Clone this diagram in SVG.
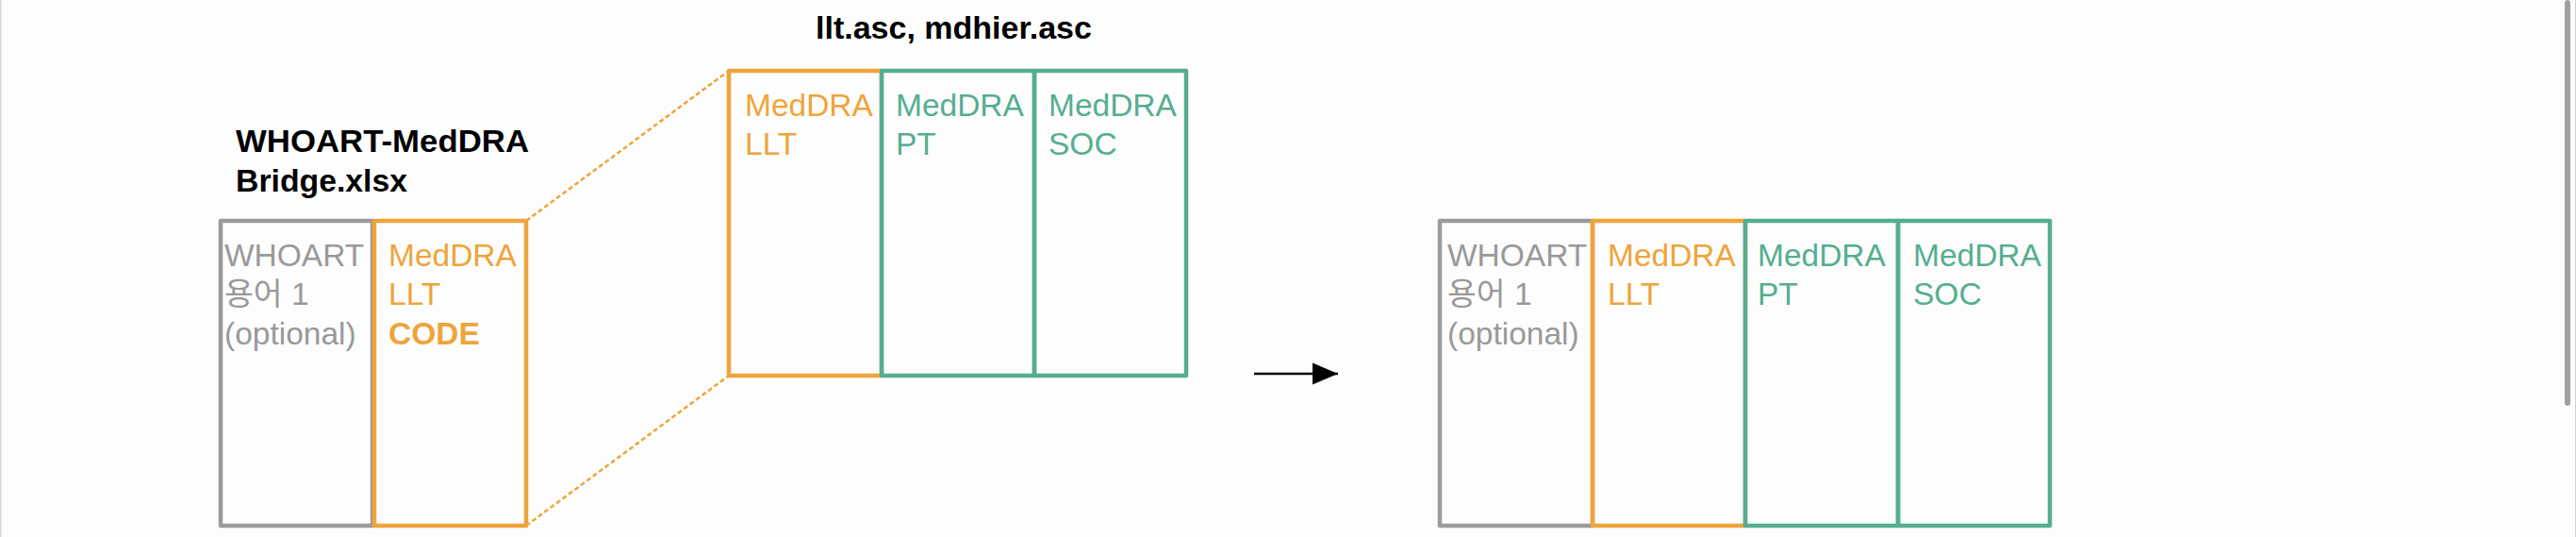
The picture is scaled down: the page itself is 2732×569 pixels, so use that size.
<svg xmlns="http://www.w3.org/2000/svg" width="2732" height="569" viewBox="0 0 2732 569">
  <defs>
    <style>
      .t { font-family: "Liberation Sans", "Noto Sans CJK KR", sans-serif; font-size: 33.5px; }
      .b { font-weight: bold; }
      .title { font-family: "Liberation Sans", sans-serif; font-size: 34px; font-weight: bold; fill: #000; }
      .gray { fill: #999999; }
      .orange { fill: #EFA43B; }
      .green { fill: #55AE90; }
      .cg { fill: none; stroke: #9B9B9B; stroke-width: 4.5; stroke-linejoin: round; }
      .co { fill: none; stroke: #EFA43B; stroke-width: 4.5; stroke-linejoin: round; }
      .cn { fill: none; stroke: #55AE90; stroke-width: 4.5; stroke-linejoin: round; }
      .dash { fill: none; stroke: #EFA43B; stroke-width: 2.5; stroke-dasharray: 5 3; }
      .arrow { fill: none; stroke: #000; stroke-width: 2.5; }
    </style>
    <marker id="ah" markerUnits="userSpaceOnUse" markerWidth="28" markerHeight="24" refX="27" refY="12" orient="auto">
      <polygon points="0,0.5 27,12 0,23.5" fill="#000"/>
    </marker>
  </defs>
  <rect x="0" y="0" width="2732" height="569" fill="#FDFDFD"/>
  <rect x="0" y="0" width="1.5" height="569" fill="#D4D8E0"/>
  <rect x="2720" y="0" width="6" height="430" rx="3" fill="#A0A0A0"/>
  <rect x="2731" y="0" width="1" height="569" fill="#D0D0D0"/>

  <g id="connectors">
    <line class="dash" x1="558" y1="234" x2="773" y2="75"/>
    <line class="dash" x1="558" y1="557" x2="773" y2="398"/>
    <line class="arrow" x1="1330" y1="396" x2="1419" y2="396" marker-end="url(#ah)"/>
  </g>

  <g id="bridge">
    <text class="title" x="250" y="161" textLength="311" lengthAdjust="spacingAndGlyphs">WHOART-MedDRA</text>
    <text class="title" x="250" y="203" textLength="182" lengthAdjust="spacingAndGlyphs">Bridge.xlsx</text>
    <g id="bridge-whoart">
      <rect class="cg" x="234" y="234" width="161" height="323"/>
      <text class="t gray" x="238" y="282">WHOART</text>
      <text class="t gray" x="238" y="323">용어 1</text>
      <text class="t gray" x="238" y="365">(optional)</text>
    </g>
    <g id="bridge-llt">
      <rect class="co" x="397" y="234" width="161" height="323"/>
      <text class="t orange" x="412" y="282">MedDRA</text>
      <text class="t orange" x="412" y="323">LLT</text>
      <text class="t orange b" x="412" y="365">CODE</text>
    </g>
  </g>

  <g id="asc">
    <text class="title" x="865" y="41">llt.asc, mdhier.asc</text>
    <g id="asc-llt">
      <rect class="co" x="773" y="75" width="162" height="323"/>
      <text class="t orange" x="790" y="123">MedDRA</text>
      <text class="t orange" x="790" y="164">LLT</text>
    </g>
    <g id="asc-pt">
      <rect class="cn" x="935" y="75" width="162" height="323"/>
      <text class="t green" x="950" y="123">MedDRA</text>
      <text class="t green" x="950" y="164">PT</text>
    </g>
    <g id="asc-soc">
      <rect class="cn" x="1097" y="75" width="161" height="323"/>
      <text class="t green" x="1112" y="123">MedDRA</text>
      <text class="t green" x="1112" y="164">SOC</text>
    </g>
  </g>

  <g id="result">
    <g id="result-whoart">
      <rect class="cg" x="1527" y="234" width="162" height="323"/>
      <text class="t gray" x="1535" y="282">WHOART</text>
      <text class="t gray" x="1535" y="323">용어 1</text>
      <text class="t gray" x="1535" y="365">(optional)</text>
    </g>
    <g id="result-llt">
      <rect class="co" x="1689" y="234" width="162" height="323"/>
      <text class="t orange" x="1705" y="282">MedDRA</text>
      <text class="t orange" x="1705" y="323">LLT</text>
    </g>
    <g id="result-pt">
      <rect class="cn" x="1851" y="234" width="162" height="323"/>
      <text class="t green" x="1864" y="282">MedDRA</text>
      <text class="t green" x="1864" y="323">PT</text>
    </g>
    <g id="result-soc">
      <rect class="cn" x="2013" y="234" width="161" height="323"/>
      <text class="t green" x="2029" y="282">MedDRA</text>
      <text class="t green" x="2029" y="323">SOC</text>
    </g>
  </g>
</svg>
